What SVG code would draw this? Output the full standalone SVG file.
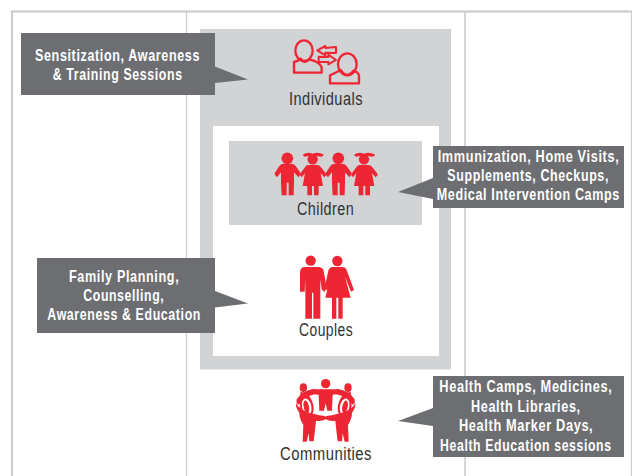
<svg xmlns="http://www.w3.org/2000/svg" width="632" height="476" viewBox="0 0 632 476">
<style>
.bg{fill:#fff}
.band{fill:#d1d3d4}
.frame{fill:none;stroke:#cbcccd}
.call{fill:#6d6e71}
.ct{font-family:"Liberation Sans",Arial,sans-serif;font-weight:700;font-size:16px;letter-spacing:.8px;fill:#fff}
.lb{font-family:"Liberation Sans",Arial,sans-serif;font-size:18.5px;letter-spacing:.6px;fill:#303033}
.r{fill:#ee2532}
.rs{fill:none;stroke:#ee2532;stroke-linecap:round;stroke-linejoin:round}
</style>
<defs>
<g id="boy">
<circle class="r" cx="67" cy="55" r="17.500"/>
<path class="r" d="M56 71H78Q87 71 92 78L106 98Q108 102 100 112L87 97V128L86 166H71V128H65V166H50L48 128V97L36 112Q28 106 29 100L43 78Q48 71 56 71Z"/>
</g>
<g id="girl">
<circle class="r" cx="143" cy="58" r="15.500"/>
<path class="r" d="M113 44Q128 34 143 41Q158 34 177 44Q172 53 160 49H126Q118 53 113 44Z"/>
<path class="r" d="M130 75H156Q163 75 168 82L184 102Q185 106 178 112L167 100L174 138H161V166H147V138H141V166H127V138H113L120 100L110 112Q104 106 105 102L120 82Q124 75 130 75Z"/>
</g>
<g id="commHalf">
<ellipse class="r" cx="100" cy="53" rx="11" ry="13"/>
<path class="r" d="M134 56Q98 60 80 88Q78 104 86 104Q100 80 136 72Z"/>
<path class="r" d="M92 66Q114 66 126 92Q136 118 126 134L96 130Q84 110 92 66Z"/>
<ellipse cx="110" cy="110" rx="14" ry="25" transform="rotate(-12 110 110)" fill="#fff"/>
<ellipse cx="109" cy="110" rx="8" ry="19" transform="rotate(-12 109 110)" class="r"/>
<path class="r" d="M78 100Q94 130 165 138L170 146Q152 156 138 152L134 190L131 214H118L116 190L110 215H98L100 165Q88 145 88 128Q76 112 78 100Z"/>
</g>
</defs>
<g id="frame">
<rect class="frame" x="12" y="11.500" width="640" height="480" stroke-width="2.200"/>
<line class="frame" x1="186.500" y1="12" x2="186.500" y2="476" stroke="#b5b6b8" stroke-width="1.200"/>
<line class="frame" x1="465" y1="12" x2="465" y2="476" stroke-width="1.600"/>
<line class="frame" x1="631.500" y1="12" x2="631.500" y2="476" stroke-width="1.200"/>
</g>
<g id="individuals-band">
<rect class="band" x="200" y="29" width="251" height="340.500"/>
<rect class="bg" x="213" y="126" width="226" height="230"/>
</g>
<g id="individuals">
<g transform="translate(270 30) scale(.3333)">
<g class="rs" stroke-width="7">
<ellipse cx="102" cy="62" rx="26" ry="31"/>
<path d="M72 128V96Q84 94 92 86Q102 104 118 88Q150 96 155 112V128Z"/>
<ellipse cx="232" cy="103" rx="28" ry="33"/>
<path d="M180 160V136Q194 130 212 120Q230 148 250 122Q264 126 267 136V160Z"/>
<path stroke-width="6" d="M142 61L166 48V54L198 51V69L166 68V76Z"/>
<path stroke-width="6" d="M198 90L175 74V81L146 80V96L175 96V103Z"/>
</g>
</g>
<text class="lb" transform="translate(289 105) scale(.88 1)" textLength="84" lengthAdjust="spacingAndGlyphs">Individuals</text>
</g>
<g id="children">
<rect class="band" x="229" y="141" width="193" height="84"/>
<g transform="translate(265 140) scale(.3333)">
<use href="#boy"/>
<use href="#girl"/>
<use href="#boy" x="153"/>
<use href="#girl" x="154"/>
</g>
<text class="lb" transform="translate(297 215) scale(.88 1)" textLength="65" lengthAdjust="spacingAndGlyphs">Children</text>
</g>
<g id="couples">
<g transform="translate(285 250) scale(.3333)">
<circle class="r" cx="77" cy="32" r="15.500"/>
<path class="r" d="M60 51H100Q112 51 116 62L124 108L120 125Q112 124 110 118L106 88V206H85V128H81V206H61V88L59 125H45V68Q45 51 60 51Z"/>
<circle class="r" cx="157" cy="33" r="15.500"/>
<path class="r" d="M142 51H172Q180 51 184 58L207 120L198 125L180 80L197 143H173V206H160V143H154V206H141V143H121L134 90L127 120L118 118L130 62Q134 51 142 51Z"/>
</g>
<text class="lb" transform="translate(299 336) scale(.88 1)" textLength="61.400" lengthAdjust="spacingAndGlyphs">Couples</text>
</g>
<g id="communities">
<g transform="translate(270 370) scale(.3333)">
<use href="#commHalf"/>
<use href="#commHalf" transform="translate(334 0) scale(-1 1)"/>
<circle class="r" cx="167" cy="41" r="14"/>
<path class="r" d="M130 58H204L208 72L188 74L186 122H172L167 100L162 122H148L146 74L126 72Z"/>
</g>
<text class="lb" transform="translate(280 460) scale(.88 1)" textLength="104.500" lengthAdjust="spacingAndGlyphs">Communities</text>
</g>
<g id="callout-individuals">
<path class="call" d="M21 33H215V66.500L248 79.500L215 83V95H21Z"/>
<text class="ct" transform="translate(35 60.500) scale(.8 1)" textLength="206.300" lengthAdjust="spacingAndGlyphs">Sensitization, Awareness</text>
<text class="ct" transform="translate(52.700 80) scale(.8 1)" textLength="162.500" lengthAdjust="spacingAndGlyphs">&amp; Training Sessions</text>
</g>
<g id="callout-children">
<path class="call" d="M433 146H624V208H433V199L398 192L433 178Z"/>
<text class="ct" transform="translate(437.700 161.500) scale(.8 1)" textLength="227" lengthAdjust="spacingAndGlyphs">Immunization, Home Visits,</text>
<text class="ct" transform="translate(447.300 180.500) scale(.8 1)" textLength="202.100" lengthAdjust="spacingAndGlyphs">Supplements, Checkups,</text>
<text class="ct" transform="translate(436.700 200) scale(.8 1)" textLength="229.100" lengthAdjust="spacingAndGlyphs">Medical Intervention Camps</text>
</g>
<g id="callout-couples">
<path class="call" d="M37 258H215V291L248 303.500L215 307.500V333H37Z"/>
<text class="ct" transform="translate(69 281.500) scale(.8 1)" textLength="137.900" lengthAdjust="spacingAndGlyphs">Family Planning,</text>
<text class="ct" transform="translate(83.300 301) scale(.8 1)" textLength="101.300" lengthAdjust="spacingAndGlyphs">Counselling,</text>
<text class="ct" transform="translate(47.300 320) scale(.8 1)" textLength="192.100" lengthAdjust="spacingAndGlyphs">Awareness &amp; Education</text>
</g>
<g id="callout-communities">
<path class="call" d="M433 376H624V457H433V426L398 421L433 408Z"/>
<text class="ct" transform="translate(439.300 392) scale(.8 1)" textLength="216.300" lengthAdjust="spacingAndGlyphs">Health Camps, Medicines,</text>
<text class="ct" transform="translate(471 411.500) scale(.8 1)" textLength="137.100" lengthAdjust="spacingAndGlyphs">Health Libraries,</text>
<text class="ct" transform="translate(459 430.500) scale(.8 1)" textLength="167.900" lengthAdjust="spacingAndGlyphs">Health Marker Days,</text>
<text class="ct" transform="translate(440 450.500) scale(.8 1)" textLength="214.600" lengthAdjust="spacingAndGlyphs">Health Education sessions</text>
</g>
</svg>
